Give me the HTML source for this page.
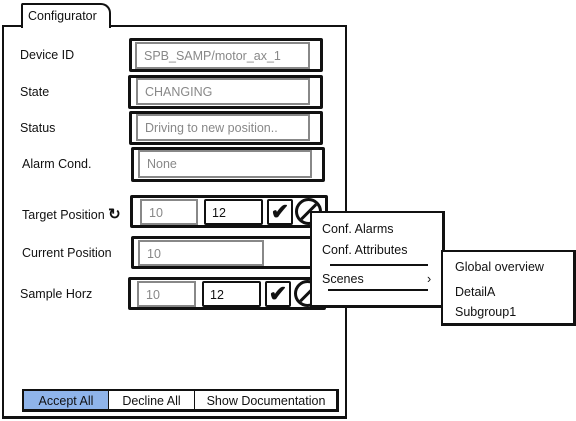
<!DOCTYPE html>
<html><head><style>
body{margin:0;width:576px;height:421px;background:#fff;position:relative;overflow:hidden;font-family:"Liberation Sans",sans-serif;font-size:12.5px;color:#111}
.a{position:absolute;box-sizing:border-box}
.o{border:3px solid #111;border-radius:2px}
.i{border:2px solid #888;color:#888;padding:5px 0 0 7px;background:#fff}
.ib{border:2px solid #111;color:#111;padding:5px 0 0 6px;border-radius:2px;background:#fff}
.l{position:absolute}
.c{border:3px solid #111;border-radius:50%;overflow:hidden}
.c::after{content:"";position:absolute;left:-3px;top:9px;width:28px;height:3px;background:#111;transform:rotate(-45deg)}
</style></head><body>
<div class="a" style="left:2px;top:25px;width:345px;height:394px;border:2px solid #111;border-bottom-width:3px"></div>
<div class="a" style="left:21px;top:3px;width:90px;height:25px;border:2px solid #111;border-bottom:none;border-radius:2px 10px 0 0;background:#fff;padding:4px 0 0 5px">Configurator</div>

<div class="l" style="left:20px;top:48px">Device ID</div>
<div class="a o" style="left:129px;top:38px;width:194px;height:34px"></div>
<div class="a i" style="left:135px;top:42px;width:175px;height:27px">SPB_SAMP/motor_ax_1</div>

<div class="l" style="left:20px;top:85px">State</div>
<div class="a o" style="left:128px;top:75px;width:195px;height:34px"></div>
<div class="a i" style="left:136px;top:78px;width:174px;height:27px">CHANGING</div>

<div class="l" style="left:20px;top:121px">Status</div>
<div class="a o" style="left:129px;top:111px;width:194px;height:34px"></div>
<div class="a i" style="left:136px;top:114px;width:174px;height:27px">Driving to new position..</div>

<div class="l" style="left:22px;top:157px">Alarm Cond.</div>
<div class="a o" style="left:131px;top:147px;width:194px;height:35px"></div>
<div class="a i" style="left:138px;top:150px;width:174px;height:28px">None</div>

<div class="l" style="left:22px;top:205px">Target Position <b style="font-size:15px">&#x21BB;</b></div>
<div class="a o" style="left:130px;top:195px;width:198px;height:33px"></div>
<div class="a i" style="left:140px;top:199px;width:58px;height:26px">10</div>
<div class="a ib" style="left:204px;top:199px;width:59px;height:26px">12</div>
<div class="a ib" style="left:267px;top:199px;width:26px;height:26px;padding:0;font-size:22px;font-weight:bold;text-align:center;line-height:22px">&#x2714;</div>
<div class="a c" style="left:295px;top:198px;width:27px;height:27px"></div>

<div class="l" style="left:22px;top:246px">Current Position</div>
<div class="a o" style="left:131px;top:236px;width:196px;height:33px"></div>
<div class="a i" style="left:138px;top:240px;width:126px;height:26px">10</div>

<div class="l" style="left:20px;top:287px">Sample Horz</div>
<div class="a o" style="left:128px;top:277px;width:198px;height:33px"></div>
<div class="a i" style="left:137px;top:281px;width:59px;height:26px">10</div>
<div class="a ib" style="left:202px;top:281px;width:59px;height:26px">12</div>
<div class="a ib" style="left:265px;top:281px;width:26px;height:26px;padding:0;font-size:22px;font-weight:bold;text-align:center;line-height:22px">&#x2714;</div>
<div class="a c" style="left:294px;top:280px;width:27px;height:27px"></div>

<div class="a" style="left:310px;top:211px;width:135px;height:97px;border:2px solid #111;border-right-width:3px;border-bottom-width:3px;background:#fff"></div>
<div class="l" style="left:322px;top:222px">Conf. Alarms</div>
<div class="l" style="left:322px;top:243px">Conf. Attributes</div>
<div class="a" style="left:330px;top:264px;width:98px;height:2px;background:#111"></div>
<div class="l" style="left:322px;top:272px">Scenes</div>
<div class="l" style="left:427px;top:272px">&#x203A;</div>
<div class="a" style="left:328px;top:289px;width:100px;height:2px;background:#111"></div>

<div class="a" style="left:441px;top:250px;width:135px;height:76px;border:2px solid #111;border-right-width:3px;border-bottom-width:3px;background:#fff"></div>
<div class="l" style="left:455px;top:260px">Global overview</div>
<div class="l" style="left:455px;top:285px">DetailA</div>
<div class="l" style="left:455px;top:305px">Subgroup1</div>

<div class="a" style="left:22px;top:389px;width:317px;height:23px;border:2px solid #111;border-right-width:3px;border-bottom-width:3px"></div>
<div class="a" style="left:24px;top:391px;width:84px;height:18px;background:#8fb4ea;text-align:center;line-height:20px">Accept All</div>
<div class="a" style="left:108px;top:391px;width:86px;height:18px;border-left:1px solid #111;text-align:center;line-height:20px">Decline All</div>
<div class="a" style="left:194px;top:391px;width:143px;height:18px;border-left:1px solid #111;text-align:center;line-height:20px">Show Documentation</div>
</body></html>
